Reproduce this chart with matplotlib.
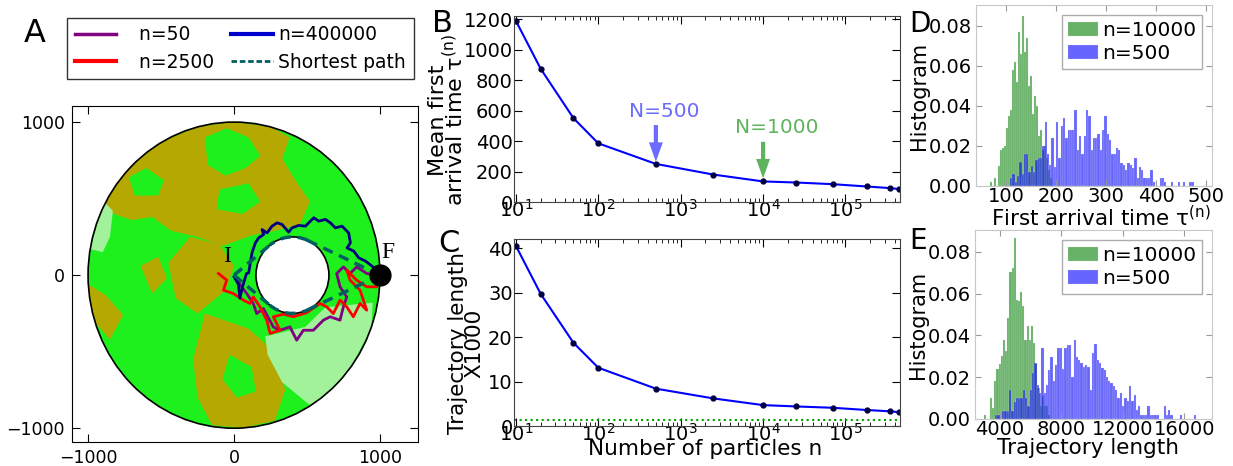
import numpy as np
import matplotlib.pyplot as plt
from matplotlib.patches import Circle, Arc, Polygon
from matplotlib.lines import Line2D

# ---------------- panels B and C
n_particles = [10, 20, 50, 100, 500, 2500, 10000, 25000, 70000, 180000, 350000, 450000]
mean_time = [1189, 874, 550, 385, 250, 180, 135, 128, 117, 102, 91, 85]
traj_len = [40.5, 29.7, 18.7, 13.1, 8.4, 6.2, 4.7, 4.4, 4.1, 3.6, 3.3, 3.1]
shortest_len = 1.3

# ---------------- panel D histograms (first arrival time)
d_green_start, d_green_width = 68, 4
d_green = [0.002, 0, 0.004, 0, 0.010, 0.018, 0.019, 0.020, 0.029, 0.035, 0.038,
           0.058, 0.062, 0.052, 0.077, 0.066, 0.085, 0.067, 0.074, 0.050, 0.055,
           0.036, 0.045, 0.040, 0.025, 0.028, 0.018, 0.020, 0.014, 0.008, 0.004]
d_blue_start, d_blue_width = 108, 4.6
d_blue = [0.004, 0.006, 0.002, 0.005, 0.012, 0.006, 0.016, 0.016, 0.007, 0.010,
          0.007, 0.013, 0.014, 0.014, 0.020, 0.032, 0.016, 0.0105, 0.024, 0.0097,
          0.032, 0.014, 0.030, 0.034, 0.024, 0.028, 0.028, 0.028, 0.038, 0.018,
          0.025, 0.016, 0.025, 0.038, 0.035, 0.018, 0.024, 0.024, 0.026, 0.018,
          0.028, 0.035, 0.026, 0.023, 0.016, 0.016, 0.019, 0.018, 0.0117, 0.0105,
          0.008, 0.0117, 0.0105, 0.0088, 0.0138, 0.004, 0.0097, 0.008, 0.004, 0.004,
          0.004, 0.008, 0.002, 0, 0, 0.004, 0.004, 0.002, 0, 0,
          0.002, 0, 0, 0.002, 0, 0.002, 0, 0, 0.002, 0.002]

# ---------------- panel E histograms (trajectory length)
e_green_start, e_green_width = 2950, 140
e_green = [0.002, 0, 0, 0.0102, 0.0054, 0.018, 0.0237, 0.0261, 0.0301, 0.038,
           0.0324, 0.0484, 0.0706, 0.0722, 0.0866, 0.057, 0.0563, 0.061, 0.054,
           0.038, 0.0444, 0.038, 0.0444, 0.0364, 0.0261, 0.015, 0.006, 0.011,
           0.006, 0.006, 0.002]
e_blue_start, e_blue_width = 3700, 150
e_blue = [0.002, 0.002, 0, 0.004, 0.004, 0.004, 0.014, 0.004, 0.008, 0.010,
          0.010, 0.010, 0.014, 0.010, 0.006, 0.014,
          0.0219, 0.0267, 0.0164, 0.0124, 0.0339, 0.0124, 0.0164, 0.0235, 0.0299,
          0.018, 0.0259, 0.0339, 0.0339, 0.0238, 0.0339, 0.0355, 0.0355, 0.0203,
          0.038, 0.0299, 0.0283, 0.0267, 0.0251, 0.0259, 0.0248, 0.0140, 0.0318,
          0.036, 0.0283, 0.0267, 0.0243, 0.0235, 0.0203, 0.018, 0.0172, 0.0156,
          0.0140, 0.0100, 0.0124, 0.0060, 0.0100, 0.0084, 0.0156, 0.0084, 0.0116,
          0.0044, 0.0060, 0.0020, 0.0020, 0.0020, 0.0060, 0.0020, 0.0020, 0.0020,
          0.0020, 0, 0, 0.0060, 0.0020, 0.0044, 0.0020, 0, 0, 0, 0.0020,
          0, 0, 0, 0, 0, 0.0020]

# ---------------- panel A (annulus, trajectory clouds read as regions)
olive_regions = [
    [(-900, 430), (-820, 580), (-700, 720), (-500, 870), (-250, 970), (0, 1000),
     (250, 970), (380, 900), (330, 760), (420, 620), (520, 480), (450, 330),
     (280, 290), (120, 260), (-80, 190), (-250, 250), (-430, 290), (-560, 380),
     (-700, 360), (-820, 400)],
    [(-300, 250), (-100, 200), (0, 60), (-60, -100), (-250, -250), (-400, -150),
     (-450, 80)],
    [(-200, -250), (100, -350), (300, -520), (350, -750), (280, -950), (60, -998),
     (-150, -980), (-250, -800), (-280, -550)],
    [(-1000, -60), (-880, -130), (-760, -260), (-850, -420), (-960, -300)],
    [(-640, 60), (-520, 120), (-460, -20), (-560, -120)],
]
green_regions = [
    [(-200, 900), (-50, 960), (100, 900), (180, 780), (80, 700), (-60, 650),
     (-180, 720)],
    [(-720, 640), (-600, 700), (-480, 620), (-520, 520), (-680, 520)],
    [(-100, 560), (100, 600), (180, 480), (60, 400), (-120, 430)],
    [(-30, -520), (120, -600), (150, -760), (20, -800), (-80, -680)],
]
sparse_regions = [
    [(214, -400), (488, -338), (625, -210), (950, -180), (940, -350), (800, -600),
     (640, -780), (520, -850), (330, -700), (230, -520)],
    [(-985, 170), (-930, 360), (-880, 470), (-830, 420), (-850, 250), (-900, 150)],
]

purple_x = [18, 87, 132, 155, 201, 269, 315, 383, 429, 475, 543, 612, 658, 726,
            749, 772, 726, 703, 749, 795, 840, 909, 977]
purple_y = [-33, -120, -185, -251, -218, -338, -360, -338, -425, -360, -360, -294,
            -272, -294, -207, -142, -76, 11, 54, 11, 54, 11, 0]
red_x = [-107, -50, -73, -5, 64, 109, 132, 178, 224, 247, 315, 269, 338, 406, 498,
         589, 635, 680, 726, 772, 817, 863, 909, 863, 795, 772, 840, 909, 977, 1000,
         977]
red_y = [11, -33, -98, -120, -163, -185, -142, -207, -294, -381, -360, -272, -255,
         -272, -245, -185, -207, -251, -163, -207, -272, -185, -229, -98, -33, 33,
         -33, -76, -76, -33, 11]
navy_x = [0, 30, 40, 60, 85, 100, 123, 146, 169, 203, 192, 226, 260, 295, 329, 374,
          397, 443, 489, 523, 546, 580, 626, 660, 694, 740, 785, 797, 774, 820, 854,
          900, 945, 979]
navy_y = [-10, -60, -150, -70, 10, 15, 146, 211, 244, 266, 298, 276, 320, 342, 331,
          281, 309, 325, 320, 353, 375, 353, 364, 342, 309, 320, 276, 211, 178, 157,
          113, 92, 59, 26]

# shortest path: tangent points on the obstacle (upper branch, lower is mirrored)
short_x = [0, 244, 504, 1000]
short_y = [0, 195, 227, 0]
obstacle_c, obstacle_r = (400, 0), 250

fig = plt.figure(figsize=(12.33, 4.66), dpi=100)

green_c = '#1ef01e'
olive_c = '#b5a800'

# ================= A
axA = fig.add_axes([0.0584, 0.0515, 0.2806, 0.721])
disk = Circle((0, 0), 1000, facecolor=green_c, edgecolor='none', zorder=1)
axA.add_patch(disk)
for regs, col, z in [(olive_regions, olive_c, 1.5), (green_regions, green_c, 1.6),
                     (sparse_regions, '#a2f29c', 1.7)]:
    for reg in regs:
        p = Polygon(reg, closed=True, fc=col, ec='none', zorder=z)
        axA.add_patch(p)
        p.set_clip_path(disk)
axA.add_patch(Circle((0, 0), 1000, fill=False, ec='k', lw=1.2, zorder=3))
axA.add_patch(Circle(obstacle_c, obstacle_r, fc='white', ec='k', lw=1.2, zorder=3))

axA.plot(purple_x, purple_y, color='#800080', lw=2, zorder=4)
axA.plot(red_x, red_y, color='#ff0000', lw=2, zorder=4)
axA.plot(navy_x, navy_y, color='#000080', lw=2, zorder=4)

sp_kw = dict(color='#006060', lw=2.5, ls=(0, (3, 2)), zorder=5)
for sgn in (1, -1):
    ys = [sgn * v for v in short_y]
    axA.plot(short_x[:2], ys[:2], **sp_kw)
    axA.plot(short_x[2:], ys[2:], **sp_kw)
    a1 = np.degrees(np.arctan2(ys[1], short_x[1] - obstacle_c[0]))
    a2 = np.degrees(np.arctan2(ys[2], short_x[2] - obstacle_c[0]))
    axA.add_patch(Arc(obstacle_c, 2 * obstacle_r, 2 * obstacle_r,
                      theta1=min(a1, a2) % 360, theta2=max(a1, a2) % 360, **sp_kw))

axA.plot([1000], [0], 'o', color='k', ms=15, zorder=6)
axA.text(1055, 145, 'F', family='Liberation Serif', fontsize=17, ha='center',
         va='center', zorder=7)
axA.text(-50, 120, 'I', family='Liberation Serif', fontsize=17, ha='center',
         va='center', zorder=7)

axA.set_xlim(-1110, 1260)
axA.set_ylim(-1090, 1105)
axA.set_xticks([-1000, 0, 1000])
axA.set_yticks([-1000, 0, 1000])
axA.tick_params(direction='in', top=True, right=True, length=6, labelsize=12.5,
                pad=5)

handles = [Line2D([], [], color='#800080', lw=2.5),
           Line2D([], [], color='#ff0000', lw=3),
           Line2D([], [], color='#0000cc', lw=3),
           Line2D([], [], color='#006060', lw=2, ls=(0, (2, 1)))]
labels = ['   n=50', '   n=2500', 'n=400000', 'Shortest path']
legA = fig.legend(handles, labels, ncol=2, loc='upper left',
                  bbox_to_anchor=(67 / 1233, 1 - 18 / 466), fontsize=13.5,
                  frameon=True, fancybox=False, edgecolor='k', borderaxespad=0,
                  handlelength=2.2, handletextpad=0.3, columnspacing=0.9,
                  labelspacing=0.45, borderpad=0.4)
legA.get_frame().set_linewidth(1.0)

# ================= B
line_kw = dict(color='#0000ff', lw=1.5, marker='o', ms=3.5, mfc='#000040',
               mec='#000040')
axB = fig.add_axes([0.4169, 0.5665, 0.3131, 0.399])
axB.plot(n_particles, mean_time, **line_kw)
axB.set_xscale('log')
axB.set_xlim(9.5, 460000)
axB.set_ylim(0, 1220)
axB.set_yticks(range(0, 1201, 200))
axB.set_ylabel('Mean first\narrival time τ$^{\\mathrm{(n)}}$', fontsize=16,
               linespacing=0.7)
axB.yaxis.set_label_coords(-0.122, 0.44)
arrow_kw = dict(edgecolor='none', width=3, headwidth=10, headlength=14, shrink=0)
axB.annotate('', xy=(500, 264), xytext=(500, 505),
             arrowprops=dict(facecolor='#6b6bff', **arrow_kw))
axB.text(630, 597, 'N=500', color='#6b6bff', fontsize=14.5, ha='center',
         va='center')
axB.annotate('', xy=(10000, 155), xytext=(10000, 395),
             arrowprops=dict(facecolor='#5fb35f', **arrow_kw))
axB.text(14700, 487, 'N=1000', color='#5fb35f', fontsize=14.5, ha='center',
         va='center')

# ================= C
axC = fig.add_axes([0.4169, 0.0858, 0.3131, 0.401])
axC.plot(n_particles, traj_len, **line_kw)
axC.axhline(shortest_len, color='#00a000', ls=':', lw=1.5)
axC.set_xscale('log')
axC.set_xlim(9.5, 460000)
axC.set_ylim(0, 42)
axC.set_yticks([0, 10, 20, 30, 40])
axC.set_ylabel('Trajectory length\nX1000', fontsize=15.5, linespacing=0.8)
axC.yaxis.set_label_coords(-0.076, 0.444)
axC.set_xlabel('Number of particles n', fontsize=15.5)
axC.xaxis.set_label_coords(0.494, -0.072)

for ax in (axB, axC):
    ax.tick_params(which='both', direction='in', top=True, right=True,
                   labelsize=14, pad=1)
    ax.tick_params(axis='x', which='major', pad=-2)
    ax.tick_params(which='major', length=6)
    ax.tick_params(which='minor', length=3)
    for s in ax.spines.values():
        s.set_color('#444444')


# ================= D, E
def hist_panel(rect, gstart, gwidth, gvals, bstart, bwidth, bvals, xlim, xticks,
               xlabel, ylab_xy, xlab_xy):
    ax = fig.add_axes(rect)
    gx = gstart + gwidth * np.arange(len(gvals))
    bx = bstart + bwidth * np.arange(len(bvals))
    ax.bar(gx, gvals, width=gwidth, align='edge', color='green', alpha=0.6,
           edgecolor='#e0e0e0', linewidth=0.25, label='n=10000')
    ax.bar(bx, bvals, width=bwidth, align='edge', color='blue', alpha=0.6,
           edgecolor='#e0e0e0', linewidth=0.25, label='n=500')
    ax.set_xlim(*xlim)
    ax.set_ylim(0, 0.0905)
    ax.set_xticks(xticks)
    ax.set_yticks([0, 0.02, 0.04, 0.06, 0.08])
    ax.yaxis.set_major_formatter(plt.FormatStrFormatter('%.2f'))
    ax.tick_params(direction='in', top=True, right=True, length=4,
                   color='#999999', labelsize=14, pad=3)
    ax.tick_params(axis='x', pad=1)
    for s in ax.spines.values():
        s.set_color('#c8c8c8')
    ax.set_ylabel('Histogram', fontsize=15)
    ax.yaxis.set_label_coords(*ylab_xy)
    ax.set_xlabel(xlabel, fontsize=15.5)
    ax.xaxis.set_label_coords(*xlab_xy)
    ax.legend(loc='upper right', fontsize=14.5, fancybox=False,
              edgecolor='#999999', handlelength=1.5, handletextpad=0.2,
              labelspacing=0.2, borderpad=0.3, borderaxespad=0.5)
    return ax


axD = hist_panel([0.7916, 0.6009, 0.1914, 0.3884], d_green_start, d_green_width,
                 d_green, d_blue_start, d_blue_width, d_blue, (40, 512),
                 [100, 200, 300, 400, 500], 'First arrival time τ$^{\\mathrm{(n)}}$',
                 (-0.2, 0.5), (0.53, -0.105))
axE = hist_panel([0.7908, 0.1009, 0.1922, 0.4056], e_green_start, e_green_width,
                 e_green, e_blue_start, e_blue_width, e_blue, (2400, 17800),
                 [4000, 8000, 12000, 16000], 'Trajectory length',
                 (-0.2, 0.5), (0.475, -0.1))

# panel letters
for lab, x, y, fs in [('A', 35, 33, 23), ('B', 442, 24, 22), ('C', 449, 243, 22),
                      ('D', 920, 24, 20), ('E', 918, 241, 20)]:
    fig.text(x / 1233, 1 - y / 466, lab, fontsize=fs, ha='center', va='center')

fig.savefig('out.png', dpi=100)
